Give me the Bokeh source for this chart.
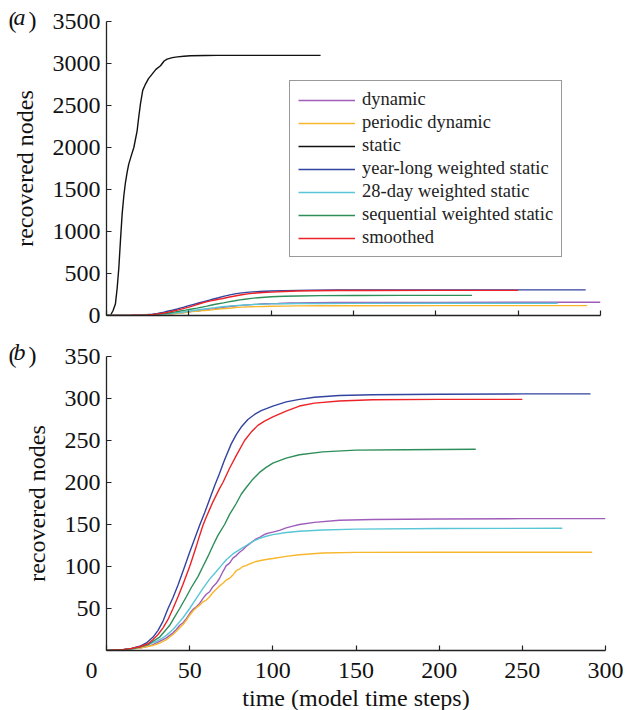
from bokeh.plotting import figure
from bokeh.models import (Legend, LegendItem, FixedTicker, Range1d, Title)
from bokeh.layouts import column
from bokeh.embed import file_html
from bokeh.resources import INLINE

# ---------------- data ----------------
names = ["dynamic", "periodic dynamic", "static", "year-long weighted static",
         "28-day weighted static", "sequential weighted static", "smoothed"]
colors = ["#9F5DBA", "#F8B62C", "#111111", "#3343A0", "#58C6D6", "#2E8E5A", "#EC2227"]

dyn_t = [0, 10, 15, 20, 25, 28, 31, 34, 36, 38, 40, 42, 44, 46, 48, 50, 52, 54, 56, 58,
         60, 62, 64, 66, 68, 70, 72, 74, 76, 78, 80, 82, 84, 86, 88, 90, 92, 94, 96, 98,
         100, 104, 108, 112, 116, 125, 140, 160, 200, 250, 300]
dyn_y = [0, 1, 2, 3, 5, 7, 10, 13, 15, 18, 21, 25, 30, 33, 38, 44, 49, 52, 56, 62,
         67, 70, 76, 80, 86, 94, 101, 104, 110, 113, 117, 120, 124, 127, 130, 133, 134.5, 137, 139, 140,
         141, 143, 146, 148, 150, 152.5, 155, 156, 156.5, 157, 157]

per_t = [0, 10, 15, 20, 25, 28, 31, 34, 36, 38, 40, 42, 44, 46, 48, 50, 52, 54, 56, 58,
         60, 62, 64, 66, 68, 70, 72, 74, 76, 78, 80, 82, 84, 86, 88, 90, 95, 100, 108, 116,
         130, 150, 200, 250, 292]
per_y = [0, 1, 2, 3, 5, 6, 8, 11, 13, 16, 19, 23, 27, 31, 36, 42, 47, 51, 54, 58,
         60, 64, 69, 73, 77, 80, 84, 86, 90, 95, 97, 100, 101, 103, 104.5, 106, 108, 109.5, 112, 114,
         116, 116.8, 117, 117, 117]

sta_t = [0, 2.4, 4, 5.4, 6.5, 7.5, 8.5, 9.5, 10.5, 11.5, 12.5, 13.5, 15, 16.6, 18.6, 19.5,
         20.6, 22, 23.7, 25.5, 27.7, 30, 32.8, 35, 36.8, 40, 43, 47, 51, 60, 67, 80, 100, 130]
sta_y = [0, 0, 60, 136, 330, 571, 900, 1207, 1420, 1583, 1700, 1802, 1900, 2000, 2199, 2350,
         2516, 2680, 2755, 2820, 2874, 2930, 2973, 3030, 3052, 3070, 3079, 3087, 3093, 3096,
         3097, 3097, 3097, 3097]

yl_t = [0, 10, 15, 20, 24, 28, 31, 34, 37, 40, 43, 47, 50, 53, 56, 59, 62, 65, 68, 71,
        75, 78, 81, 85, 89, 93, 100, 108, 116, 125, 140, 160, 200, 250, 291]
yl_y = [0, 1, 2.5, 5, 9, 16, 24, 35, 50, 63, 78, 100, 117, 133, 149, 164, 180, 196, 211, 227,
        246, 257, 266, 275, 281, 285.5, 291, 296, 299, 301.5, 303.5, 304.5, 305, 305.5, 305.5]

d28_t = [0, 10, 15, 20, 25, 30, 33, 36, 40, 43, 46, 50, 54, 58, 62, 66, 69, 72, 76, 80,
         84, 88, 92, 96, 100, 108, 116, 130, 150, 200, 274]
d28_y = [0, 1, 2, 4, 7, 11, 14, 18, 25, 32, 39, 50, 62, 74, 85, 94, 101, 108, 115, 120,
         125, 130, 133.5, 136, 138, 140.5, 142, 143.5, 144.5, 145.3, 145.5]

seq_t = [0, 10, 15, 20, 25, 28, 32, 35, 38, 41, 44, 48, 51, 55, 58, 61, 64, 67, 71, 74,
         78, 81, 84, 88, 92, 96, 100, 108, 116, 130, 150, 180, 222]
seq_y = [0, 1, 2, 4, 7, 11, 16, 23, 30, 40, 50, 64, 75, 88, 100, 112, 125, 137, 150, 162,
         175, 186, 194, 204, 212, 218, 223, 229, 233, 236.5, 238.5, 239, 239.5]

smo_t = [0, 10, 15, 20, 25, 28, 31, 34, 37, 40, 43, 46, 50, 52, 54, 56, 58, 60, 62, 64,
         66, 68, 70, 74, 78, 83, 87, 91, 95, 100, 108, 116, 125, 140, 160, 200, 250]
smo_y = [0, 1, 2.5, 4.5, 8, 13, 19, 27, 37, 50, 64, 79, 100, 112, 124, 137, 149, 159, 168, 177,
         185, 193, 200, 217, 232, 250, 260, 268, 273, 278, 285, 291, 294.5, 297, 298.5, 299, 299]

series = [(dyn_t, dyn_y), (per_t, per_y), (sta_t, sta_y), (yl_t, yl_y),
          (d28_t, d28_y), (seq_t, seq_y), (smo_t, smo_y)]

ticks_a_y = [0, 500, 1000, 1500, 2000, 2500, 3000, 3500]
ticks_x = [0, 50, 100, 150, 200, 250, 300]
ticks_b_y = [50, 100, 150, 200, 250, 300, 350]

FONT = "Liberation Serif"
FS = "24px"
NB = "\u00a0"


def style(p):
    p.grid.visible = False
    p.outline_line_color = None
    p.background_fill_color = "white"
    p.border_fill_color = "white"
    for ax in (p.xaxis[0], p.yaxis[0]):
        ax.axis_line_color = "#222222"
        ax.axis_line_width = 1.3
        ax.major_tick_line_color = "#222222"
        ax.major_tick_line_width = 1.2
        ax.major_tick_in = 5
        ax.major_tick_out = 0
        ax.minor_tick_line_color = None
        ax.major_label_text_font = FONT
        ax.major_label_text_font_size = FS
        ax.major_label_text_color = "#111111"
        ax.axis_label_text_font = FONT
        ax.axis_label_text_font_size = FS
        ax.axis_label_text_font_style = "normal"
        ax.axis_label_text_color = "#111111"


def panel_label(p, letter, standoff):
    # italic letter, nearest to the frame
    p.add_layout(Title(text=letter, align="left", offset=-93, standoff=standoff,
                       vertical_align="bottom", text_font=FONT, text_font_size=FS,
                       text_font_style="italic", text_color="#111111"), "above")
    # upright parentheses
    p.add_layout(Title(text="(" + NB + NB + ")", align="left", offset=-98,
                       standoff=standoff - 28, vertical_align="bottom", text_font=FONT,
                       text_font_size=FS, text_font_style="normal",
                       text_color="#111111"), "above")


# ---------------- panel a ----------------
pa = figure(frame_width=494, frame_height=294, output_backend="svg", toolbar_location=None,
            x_range=Range1d(0, 300), y_range=Range1d(0, 3500),
            min_border_left=106, min_border_right=25, min_border_top=21, min_border_bottom=15)
style(pa)
pa.xaxis.ticker = FixedTicker(ticks=ticks_x)
pa.xaxis.major_label_overrides = {t: "" for t in ticks_x}
pa.xaxis.major_label_text_font_size = "0px"
pa.yaxis.ticker = FixedTicker(ticks=ticks_a_y)
pa.yaxis.axis_label = "recovered nodes"
pa.yaxis.major_label_standoff = 6
pa.yaxis.axis_label_standoff = 12

items = []
for (t, y), c, n in zip(series, colors, names):
    r = pa.line(t, y, line_color=c, line_width=1.4)
    items.append(LegendItem(label=n, renderers=[r]))

leg = Legend(items=items, location=(183, 58), label_text_font=FONT,
             label_text_font_size="18.5px", label_text_color="#222222",
             glyph_width=57, glyph_height=18, label_height=18, label_standoff=7,
             spacing=2, padding=8, margin=0, border_line_color="#333333",
             border_line_width=1.2, background_fill_color="white",
             background_fill_alpha=1)
pa.add_layout(leg, "center")
panel_label(pa, "a", -17)

# ---------------- panel b ----------------
pb = figure(frame_width=499, frame_height=294, output_backend="svg", toolbar_location=None,
            x_range=Range1d(0, 300), y_range=Range1d(0, 350),
            min_border_left=106, min_border_right=20, min_border_top=26, min_border_bottom=60)
style(pb)
pb.xaxis.ticker = FixedTicker(ticks=ticks_x)
pb.xaxis.major_label_overrides = {0: "0" + NB * 5}
pb.xaxis.axis_label = "time (model time steps)"
pb.xaxis.major_label_standoff = 6
pb.xaxis.axis_label_standoff = -1
pb.yaxis.ticker = FixedTicker(ticks=ticks_b_y)
pb.yaxis.axis_label = "recovered nodes"
pb.yaxis.major_label_standoff = 6
pb.yaxis.axis_label_standoff = 12

for (t, y), c, n in zip(series, colors, names):
    if n == "static":
        continue
    pb.line(t, y, line_color=c, line_width=1.4)

panel_label(pb, "b", -17)

lay = column(pa, pb, spacing=0)
open("out.html", "w").write(file_html(lay, INLINE))
